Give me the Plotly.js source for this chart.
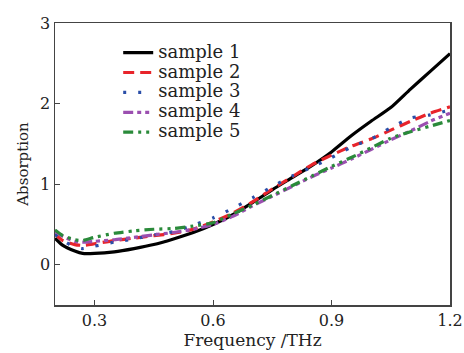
<!DOCTYPE html>
<html><head><meta charset="utf-8">
<script src="https://cdn.plot.ly/plotly-3.0.1.min.js"></script>
<style>html,body{margin:0;padding:0;background:#fff;}#plot{width:464px;height:353px;}</style>
</head><body><div id="plot"></div>
<script>
const freq = [0.2,0.22,0.25,0.27,0.3,0.35,0.4,0.45,0.5,0.55,0.6,0.65,0.7,0.75,0.8,0.85,0.9,0.95,1.0,1.05,1.1,1.15,1.2];
const sample1 = [0.33,0.24,0.17,0.14,0.14,0.16,0.2,0.25,0.32,0.4,0.5,0.62,0.77,0.93,1.08,1.23,1.4,1.6,1.78,1.95,2.18,2.4,2.62];
const sample2 = [0.38,0.3,0.25,0.24,0.26,0.3,0.33,0.36,0.39,0.44,0.53,0.64,0.78,0.94,1.09,1.24,1.36,1.47,1.56,1.67,1.78,1.88,1.96];
const sample3 = [0.38,0.3,0.22,0.2,0.23,0.28,0.32,0.37,0.41,0.49,0.58,0.7,0.83,0.97,1.1,1.21,1.33,1.46,1.56,1.7,1.82,1.86,1.92];
const sample4 = [0.42,0.35,0.29,0.28,0.29,0.31,0.34,0.37,0.4,0.44,0.5,0.6,0.73,0.85,0.97,1.09,1.2,1.31,1.43,1.55,1.66,1.78,1.88];
const sample5 = [0.43,0.36,0.31,0.3,0.34,0.39,0.42,0.44,0.45,0.48,0.52,0.63,0.74,0.86,0.98,1.1,1.22,1.33,1.45,1.57,1.65,1.72,1.79];
const names = ["sample 1","sample 2","sample 3","sample 4","sample 5"];
const colors = ["#000000","#e8242b","#2a4ea8","#9b4fb0","#2a8a3a"];
const dashes = ["solid","11px,6px","3px,12px","10px,4px,4px,4px,4px,4px","10px,5px,3px,5px,3px,5px"];
const series = [sample1,sample2,sample3,sample4,sample5];
const traces = series.map((s,i)=>({
  x: freq, y: s, type:'scatter', mode:'lines',
  name: '<span style="font-size:18px">' + names[i] + '</span>',
  line:{color:colors[i], width:3.2, dash:dashes[i], shape:'spline', smoothing:0.6}
}));
const fam = '"DejaVu Serif", "Liberation Serif", serif';
const layout = {
  width:464, height:353,
  margin:{l:55, r:14, t:23, b:48},
  paper_bgcolor:'#fff', plot_bgcolor:'#fff',
  font:{family:fam, size:15, color:'#222'},
  showlegend:true,
  legend:{x:0.16, y:0.948, xanchor:'left', yanchor:'top', bgcolor:'rgba(0,0,0,0)',
    font:{family:fam, size:13, color:'#222'}, tracegroupgap:0},
  xaxis:{range:[0.2,1.2], tickvals:[0.3,0.6,0.9,1.2], ticktext:['0.3','0.6','0.9','1.2'],
    ticks:'inside', ticklen:5, tickcolor:'#444', showline:true, linecolor:'#444', linewidth:1.5, mirror:true,
    showgrid:false, zeroline:false, tickfont:{size:16},
    title:{text:'Frequency /THz', font:{size:17}, standoff:4}},
  yaxis:{range:[-0.5,3], tickvals:[0,1,2,3], ticks:'inside', ticklen:5, tickcolor:'#444',
    showline:true, linecolor:'#444', linewidth:1.5, mirror:true, showgrid:false, zeroline:false,
    tickfont:{size:16}, title:{text:'Absorption', font:{size:15}, standoff:8}}
};
Plotly.newPlot('plot', traces, layout, {displayModeBar:false, staticPlot:true});
</script></body></html>
